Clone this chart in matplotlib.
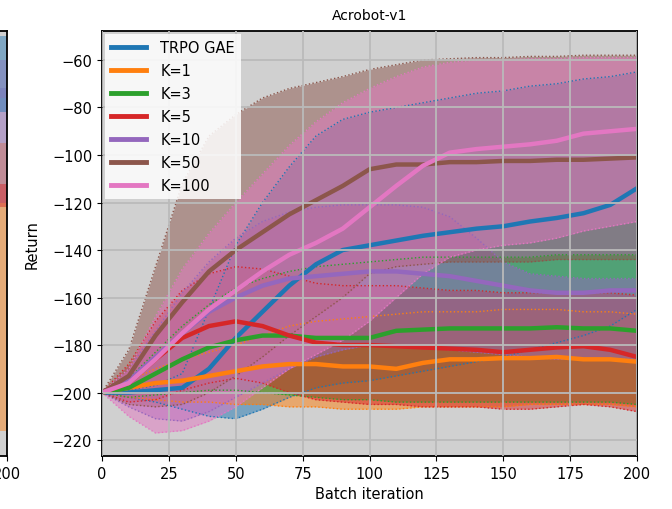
import matplotlib.pyplot as plt

iters = list(range(0, 201, 10))

labels = ["TRPO GAE", "K=1", "K=3", "K=5", "K=10", "K=50", "K=100"]
colors = ["C0", "C1", "C2", "C3", "C4", "C5", "C6"]

trpo_mean = [-200, -200, -199, -198, -190, -177, -166, -155, -146, -140, -138,
             -136, -134, -132.5, -131, -130, -128, -126.5, -124.5, -121, -114]
trpo_hi = [-200, -199, -197, -192, -165, -138, -120, -105, -92, -85, -82,
           -80, -78, -76, -74, -73, -71, -70, -68, -67, -65]
trpo_lo = [-200, -202, -204, -207, -210, -211, -207, -202, -198, -196, -195,
           -193, -191, -189, -187, -185, -182, -179, -176, -172, -165]

k1_mean = [-200, -198, -196, -195, -193, -191, -189, -188, -188, -189, -189,
           -190, -187.5, -186, -186, -185.5, -185.5, -185, -186, -186, -187]
k1_hi = [-200, -195, -190, -186, -183, -180, -176, -172, -170, -169, -168,
         -167, -166, -166, -166, -165, -165, -165, -166, -166, -167]
k1_lo = [-200, -202, -203, -204, -204, -205, -205, -206, -206, -207, -207,
         -207, -206, -206, -206, -206, -205, -205, -205, -205, -206]

k3_mean = [-200, -198, -192, -186, -181, -178, -176, -176, -177, -177, -177,
           -174, -173.5, -173, -173, -173, -173, -172.5, -173, -173, -174]
k3_hi = [-200, -194, -183, -172, -163, -156, -152, -149, -147, -146, -145,
         -144, -143, -143, -143, -143, -143, -142, -142, -142, -142]
k3_lo = [-200, -202, -201, -200, -199, -199, -200, -201, -202, -203, -203,
         -204, -204, -204, -204, -204, -204, -204, -204, -204, -205]

k5_mean = [-200, -196, -186, -177, -172, -170, -172, -176, -179, -180, -180,
           -180.5, -181, -181.5, -182, -183, -182, -181, -180.5, -182, -185]
k5_hi = [-200, -188, -170, -157, -150, -147, -148, -151, -154, -155, -155,
         -155, -156, -157, -157, -158, -158, -158, -158, -158, -159]
k5_lo = [-200, -204, -203, -199, -196, -194, -196, -200, -203, -204, -205,
         -205, -206, -206, -206, -207, -207, -206, -205, -206, -208]

k10_mean = [-200, -195, -185, -175, -166, -160, -155, -152, -151, -150, -149,
            -149, -150, -151, -153, -155, -157, -158, -158, -157, -157]
k10_hi = [-200, -190, -174, -158, -145, -135, -128, -124, -122, -121, -121,
          -121, -122, -126, -135, -145, -150, -151, -152, -152, -152]
k10_lo = [-200, -206, -211, -212, -208, -202, -196, -190, -185, -182, -180,
          -180, -181, -182, -183, -184, -185, -186, -186, -186, -186]

k50_mean = [-200, -193, -176, -162, -149, -140, -132.5, -125, -119, -113, -106,
            -104, -104, -103, -103, -102.5, -102.5, -102, -102, -101.5, -101]
k50_hi = [-200, -182, -147, -112, -92, -83, -76, -72, -69.5, -67, -64,
          -62, -60, -59.5, -59, -59, -58.5, -58.5, -58, -58, -58]
k50_lo = [-200, -205, -206, -205, -200, -193, -185, -176, -168, -160, -150,
          -147, -146, -145, -145, -145, -145, -144, -144, -144, -144]

k100_mean = [-200, -196, -186, -175, -165, -157, -149, -142, -137, -131, -122,
             -113, -104.5, -99, -97.5, -96.5, -95.5, -94, -91, -90, -89]
k100_hi = [-200, -190, -168, -148, -133, -120, -108, -96, -86, -78, -72,
           -67, -63, -61, -60, -60, -59.5, -59.5, -59, -59, -59]
k100_lo = [-200, -210, -217, -216, -212, -206, -198, -190, -184, -178, -170,
           -160, -150, -143, -140, -138, -137, -135, -132, -130, -128]

# right end of the neighbouring panel (only a sliver is visible)
nb_iters = [190, 200]
nb_colors = ["C1", "C4", "C6", "C0", "C3"]
nb_hi = [[-95, -95], [-72, -72], [-60, -60], [-50, -50], [-112, -112]]
nb_lo = [[-216, -216], [-120, -120], [-76, -76], [-82, -82], [-122, -122]]

means = [trpo_mean, k1_mean, k3_mean, k5_mean, k10_mean, k50_mean, k100_mean]
highs = [trpo_hi, k1_hi, k3_hi, k5_hi, k10_hi, k50_hi, k100_hi]
lows = [trpo_lo, k1_lo, k3_lo, k5_lo, k10_lo, k50_lo, k100_lo]

plt.rcParams["font.size"] = 10.5
bg = "#d0d0d0"
grid_col = "#bababa"

fig = plt.figure(figsize=(6.72, 5.10), dpi=100)
left, bottom, width, height = 102 / 672, 1 - 457 / 510, 535 / 672, 425 / 510

# neighbour panel, only its right edge lands inside the figure
nb = fig.add_axes(((7 - 535) / 672, bottom, width, height))
nb.set_facecolor(bg)
for c, hi, lo in zip(nb_colors, nb_hi, nb_lo):
    nb.fill_between(nb_iters, lo, hi, color=c, alpha=0.45, lw=0)
nb.set_xlim(0, 200)
nb.set_ylim(-226.7, -47.8)
nb.set_xticks([200])
nb.set_yticks([])
for s in nb.spines.values():
    s.set_linewidth(1.3)

ax = fig.add_axes((left, bottom, width, height))
ax.set_facecolor(bg)

for lab, c, m, hi, lo in zip(labels, colors, means, highs, lows):
    ax.fill_between(iters, lo, hi, color=c, alpha=0.5, lw=0)
    ax.plot(iters, hi, color=c, ls=":", lw=1.0)
    ax.plot(iters, lo, color=c, ls=":", lw=1.0)
for lab, c, m in zip(labels, colors, means):
    ax.plot(iters, m, color=c, lw=3.2, label=lab)

ax.set_axisbelow(False)
ax.grid(True, color=grid_col, lw=1.3)
ax.set_xlim(0, 200)
ax.set_ylim(-226.7, -47.8)
ax.set_xticks(range(0, 201, 25))
ax.set_yticks(range(-220, -59, 20))
for s in ax.spines.values():
    s.set_linewidth(1.3)

ax.set_title("Acrobot-v1", fontsize=10, pad=9)
ax.set_xlabel("Batch iteration")
ax.set_ylabel("Return", labelpad=9)

leg = ax.legend(loc="upper left", handlelength=2.4, handletextpad=1.0,
                labelspacing=0.55, fancybox=False, framealpha=0.85,
                borderaxespad=0.2)
leg.get_frame().set_linewidth(0)
for line in leg.get_lines():
    line.set_linewidth(3.5)

fig.savefig("out.png", dpi=100)
